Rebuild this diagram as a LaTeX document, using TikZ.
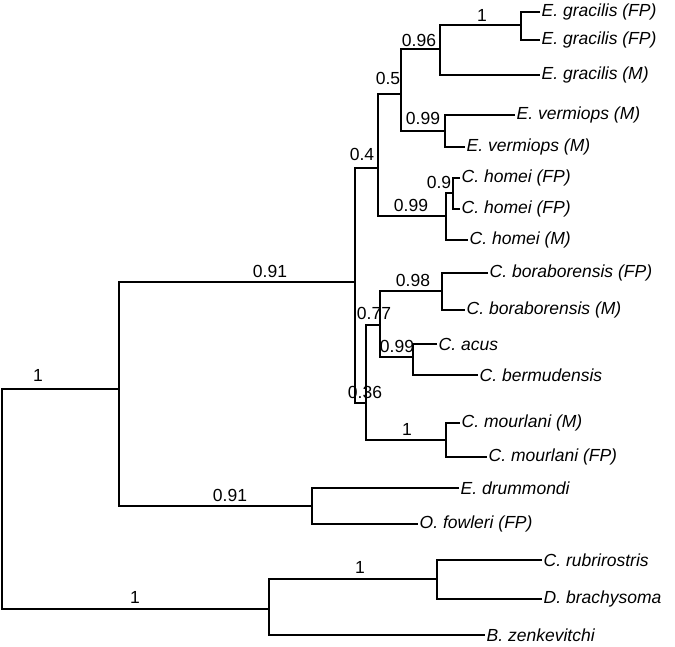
\documentclass[tikz,border=0pt]{standalone}
\usepackage{fontspec}
\setmainfont{Liberation Sans}
\begin{document}
\begin{tikzpicture}[x=1pt,y=-1pt,
  br/.style={line width=1.3pt,black},
  leaf/.style={anchor=west,inner sep=1.5pt,font=\fontsize{17.5}{17.5}\selectfont\itshape},
  sup/.style={inner sep=0pt,font=\fontsize{17.5}{17.5}\selectfont}]
\useasboundingbox (0,0) rectangle (675,646);
% internal nodes
\coordinate (R) at (2,500);
\coordinate (A) at (119,389);
\coordinate (B) at (269,609);
\coordinate (C) at (355,282);
\coordinate (D) at (312,506);
\coordinate (E) at (378,168);
\coordinate (F) at (366,403);
\coordinate (G) at (401,94);
\coordinate (H) at (446,216);
\coordinate (I) at (440,49);
\coordinate (J) at (445,131);
\coordinate (K) at (521,25);
\coordinate (L) at (453,193);
\coordinate (M) at (380,325);
\coordinate (N) at (446,440);
\coordinate (O) at (442,291);
\coordinate (P) at (413,357);
\coordinate (Q) at (437,579);
% leaves
\node[leaf] (l1) at (540,12) {E. gracilis (FP)};
\node[leaf] (l2) at (540,40) {E. gracilis (FP)};
\node[leaf] (l3) at (540,75) {E. gracilis (M)};
\node[leaf] (l4) at (515,115) {E. vermiops (M)};
\node[leaf] (l5) at (465,147) {E. vermiops (M)};
\node[leaf] (l6) at (460,178) {C. homei (FP)};
\node[leaf] (l7) at (460,209) {C. homei (FP)};
\node[leaf] (l8) at (468,240) {C. homei (M)};
\node[leaf] (l9) at (488,273) {C. boraborensis (FP)};
\node[leaf] (l10) at (465,310) {C. boraborensis (M)};
\node[leaf] (l11) at (437,344) {C. acus};
\node[leaf] (l12) at (478,375) {C. bermudensis};
\node[leaf] (l13) at (460,423) {C. mourlani (M)};
\node[leaf] (l14) at (487,457) {C. mourlani (FP)};
\node[leaf] (l15) at (459,488) {E. drummondi};
\node[leaf] (l16) at (418,524) {O. fowleri (FP)};
\node[leaf] (l17) at (542,560) {C. rubrirostris};
\node[leaf] (l18) at (542,599) {D. brachysoma};
\node[leaf] (l19) at (485,635) {B. zenkevitchi};
% branches
\foreach \p/\a/\b in {R/A/B, A/C/D, C/E/F, E/G/H, G/I/J, H/L/l8.west, I/K/l3.west,
  K/l1.west/l2.west, J/l4.west/l5.west, L/l6.west/l7.west, F/M/N, M/O/P,
  O/l9.west/l10.west, P/l11.west/l12.west, N/l13.west/l14.west,
  D/l15.west/l16.west, B/Q/l19.west, Q/l17.west/l18.west}
  \draw[br] (\a) -- (\a -| \p) -- (\b -| \p) -- (\b);
% support values
\foreach \v/\x/\y in {1/482/15, 0.96/419/40, 0.5/388/78, 0.99/423/118, 0.4/362/154,
  0.9/439/182, 0.99/411/205, 0.98/413/280, 0.77/374/313, 0.99/397/346, 0.36/365/392,
  1/407/429, 0.91/270/271, 1/38/375, 0.91/230/495, 1/360/567, 1/135/597}
  \node[sup] at (\x,\y) {\v};
\end{tikzpicture}
\end{document}
